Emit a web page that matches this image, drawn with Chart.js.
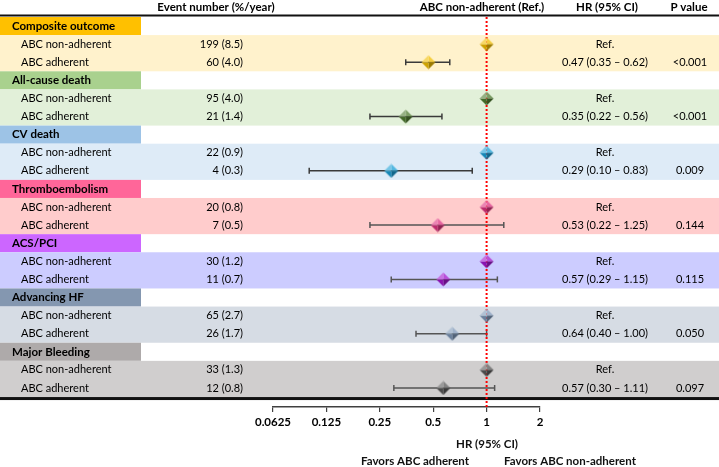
<!DOCTYPE html>
<html>
<head>
<meta charset="utf-8">
<script src="https://cdn.jsdelivr.net/npm/chart.js@4.4.1/dist/chart.umd.min.js"></script>
<style>
  html, body { margin: 0; padding: 0; background: #fff; }
  #wrap { width: 719px; height: 467px; }
</style>
</head>
<body>
<div id="wrap"><canvas id="forest" width="719" height="467"></canvas></div>
<script>
// outcome groups
const groups = ["Composite outcome", "All-cause death", "CV death", "Thromboembolism", "ACS/PCI", "Advancing HF", "Major Bleeding"];
const armLabels = ["ABC non-adherent", "ABC adherent"];
const eventsNonAdh = ["199 (8.5)", "95 (4.0)", "22 (0.9)", "20 (0.8)", "30 (1.2)", "65 (2.7)", "33 (1.3)"];
const eventsAdh = ["60 (4.0)", "21 (1.4)", "4 (0.3)", "7 (0.5)", "11 (0.7)", "26 (1.7)", "12 (0.8)"];
const hr = [0.47, 0.35, 0.29, 0.53, 0.57, 0.64, 0.57];
const ciLow = [0.35, 0.22, 0.10, 0.22, 0.29, 0.40, 0.30];
const ciHigh = [0.62, 0.56, 0.83, 1.25, 1.15, 1.00, 1.11];
const pValues = ["<0.001", "<0.001", "0.009", "0.144", "0.115", "0.050", "0.097"];
const refHR = 1;
const xTicks = [0.0625, 0.125, 0.25, 0.5, 1, 2];

// colours per group
const headColors = ["#FFC000", "#A9D18E", "#9DC3E6", "#FF6699", "#CC66FF", "#8497B0", "#AEAAAA"];
const bandColors = ["#FFF2CC", "#E2F0D9", "#DEEBF7", "#FFCCCC", "#CCCCFF", "#D6DCE4", "#D0CECE"];
const markColors = ["#F2BE00", "#4F7B30", "#1A9FD6", "#DD3280", "#A115CE", "#7D97B8", "#575757"];

const FONT = "Lato";
const W = 719;

function shade(hex, f) {
  let r = parseInt(hex.slice(1, 3), 16), g = parseInt(hex.slice(3, 5), 16), b = parseInt(hex.slice(5, 7), 16);
  if (f > 0) { r += (255 - r) * f; g += (255 - g) * f; b += (255 - b) * f; }
  else { r *= 1 + f; g *= 1 + f; b *= 1 + f; }
  return "rgb(" + Math.round(r) + "," + Math.round(g) + "," + Math.round(b) + ")";
}

// bevelled diamond marker
function diamond(color) {
  const s = 7, c = document.createElement("canvas");
  c.width = c.height = s * 2 + 1;
  const g = c.getContext("2d");
  const m = s + 0.5;
  const facets = [
    [[m, 0.5], [m + s, m], 0.25],
    [[m + s, m], [m, m + s], -0.35],
    [[m, m + s], [m - s, m], -0.15],
    [[m - s, m], [m, 0.5], 0.4]
  ];
  facets.forEach(f => {
    g.beginPath();
    g.moveTo(m, m);
    g.lineTo(f[0][0], f[0][1]);
    g.lineTo(f[1][0], f[1][1]);
    g.closePath();
    g.fillStyle = shade(color, f[2]);
    g.fill();
  });
  return c;
}

const datasets = [];
groups.forEach((name, i) => {
  const rowRef = i * 3 + 1.5, rowAdh = i * 3 + 2.5;
  datasets.push({
    data: [{ x: refHR, y: rowRef }, { x: hr[i], y: rowAdh }],
    pointStyle: diamond(markColors[i]),
    pointRadius: 7,
    order: 0
  });
  datasets.push({
    data: [{ x: ciLow[i], y: rowAdh }, { x: ciHigh[i], y: rowAdh }],
    showLine: true,
    borderColor: i < 3 ? "#3A3A3A" : "#555555",
    borderWidth: 1.5,
    pointStyle: "line",
    rotation: 90,
    pointRadius: 3,
    pointBorderColor: i < 3 ? "#3A3A3A" : "#555555",
    pointBorderWidth: 1.5,
    order: 2
  });
});
datasets.push({
  data: [{ x: refHR, y: 0 }, { x: refHR, y: 21.6 }],
  showLine: true,
  borderColor: "#FF0000",
  borderWidth: 2,
  borderDash: [2, 2],
  pointRadius: 0,
  order: 1
});

const tablePlugin = {
  id: "table",
  beforeDatasetsDraw(chart) {
    const ctx = chart.ctx, y = chart.scales.y;
    ctx.save();
    groups.forEach((name, i) => {
      const r0 = i * 3;
      const top = y.getPixelForValue(r0), mid = y.getPixelForValue(r0 + 1), bot = y.getPixelForValue(r0 + 3);
      ctx.fillStyle = headColors[i];
      ctx.fillRect(0, top, 141, mid - top);
      ctx.fillStyle = bandColors[i];
      ctx.fillRect(0, mid, W, bot - mid);

      ctx.fillStyle = "#000";
      ctx.textBaseline = "middle";
      ctx.font = "bold 11.5px " + FONT;
      ctx.textAlign = "left";
      ctx.fillText(name, 12, y.getPixelForValue(r0 + 0.5));

      ctx.font = "11px " + FONT;
      const yRef = y.getPixelForValue(r0 + 1.5), yAdh = y.getPixelForValue(r0 + 2.5);
      ctx.fillText(armLabels[0], 21, yRef);
      ctx.fillText(armLabels[1], 21, yAdh);
      ctx.textAlign = "right";
      ctx.fillText(eventsNonAdh[i], 243, yRef);
      ctx.fillText(eventsAdh[i], 243, yAdh);
      ctx.textAlign = "center";
      ctx.fillText("Ref.", 605, yRef);
      ctx.fillText(hr[i].toFixed(2) + " (" + ciLow[i].toFixed(2) + " \u2013 " + ciHigh[i].toFixed(2) + ")", 605, yAdh);
      ctx.fillText(pValues[i], 690, yAdh);
    });

    // header
    ctx.font = "bold 11.5px " + FONT;
    ctx.textAlign = "center";
    ctx.fillStyle = "#000";
    ctx.fillText("Event number (%/year)", 216, 7);
    ctx.fillText("ABC non-adherent (Ref.)", 482, 7);
    ctx.fillText("HR (95% CI)", 607, 7);
    ctx.fillText("P value", 689, 7);

    // rules
    ctx.fillStyle = "#111";
    ctx.fillRect(0, 14.5, W, 2);
    const yb = y.getPixelForValue(21);
    ctx.fillRect(0, yb, W, 3);

    // bottom captions
    ctx.fillText("HR (95% CI)", 487, 444);
    ctx.fillText("Favors ABC adherent", 415, 461);
    ctx.fillText("Favors ABC non-adherent", 570, 461);
    ctx.restore();
  }
};

Chart.defaults.font.family = FONT;
Chart.defaults.color = "#000";

new Chart(document.getElementById("forest"), {
  type: "scatter",
  data: { datasets },
  options: {
    responsive: false,
    animation: false,
    layout: { padding: { left: 273, right: 179, top: 17, bottom: 0 } },
    plugins: { legend: { display: false }, tooltip: { enabled: false } },
    scales: {
      x: {
        type: "logarithmic",
        min: xTicks[0],
        max: xTicks[xTicks.length - 1],
        afterBuildTicks(scale) { scale.ticks = xTicks.map(v => ({ value: v })); },
        afterFit(scale) { scale.height = 60; },
        ticks: {
          autoSkip: false,
          maxRotation: 0,
          padding: 3,
          font: { weight: "bold", size: 11.5 },
          callback: v => String(v)
        },
        grid: { drawOnChartArea: false, tickLength: 5, color: "#404040", lineWidth: 1.2 },
        border: { display: true, color: "#404040", width: 1.5 }
      },
      y: { type: "linear", reverse: true, min: 0, max: 21.55, display: false }
    }
  },
  plugins: [tablePlugin]
});
</script>
</body>
</html>
